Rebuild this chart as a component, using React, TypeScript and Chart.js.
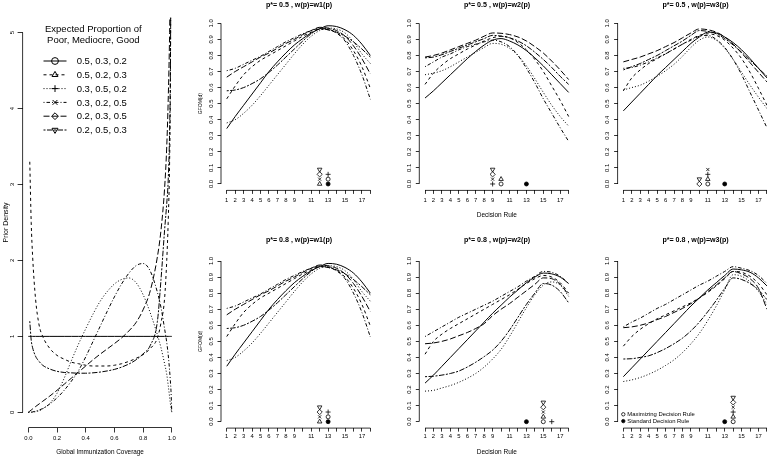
import React, { useEffect, useRef } from 'react';
import { Chart, registerables } from 'chart.js';
import { drawPoint } from 'chart.js/helpers';

Chart.register(...registerables);

const FONT = "'Liberation Sans', Arial, Helvetica, sans-serif";

// ---------------- data ----------------
const decisionRules = [1, 2, 3, 4, 5, 6, 7, 8, 9, 10, 11, 12, 13, 14, 15, 16, 17, 18];
const ruleTickLabels = ['1', '2', '3', '4', '5', '6', '7', '8', '9', '', '11', '', '13', '', '15', '', '17', ''];
const gfomTicks = [0, 0.1, 0.2, 0.3, 0.4, 0.5, 0.6, 0.7, 0.8, 0.9, 1.0];
const gfomTickLabels = ['0.0', '0.1', '0.2', '0.3', '0.4', '0.5', '0.6', '0.7', '0.8', '0.9', '1.0'];

const scenarioLabels = ['0.5, 0.3, 0.2', '0.5, 0.2, 0.3', '0.3, 0.5, 0.2', '0.3, 0.2, 0.5', '0.2, 0.3, 0.5', '0.2, 0.5, 0.3'];
const legendTitle = ['Expected Proportion of', 'Poor, Mediocre, Good'];
const panelTitles = [
  'p*= 0.5 , w(p)=w1(p)', 'p*= 0.5 , w(p)=w2(p)', 'p*= 0.5 , w(p)=w3(p)',
  'p*= 0.8 , w(p)=w1(p)', 'p*= 0.8 , w(p)=w2(p)', 'p*= 0.8 , w(p)=w3(p)',
];
const ruleLegendLabels = ['Maximizing Decision Rule', 'Standard Decision Rule'];

// GFOM(d) per scenario (rows = scenarios 1..6, columns = decision rules 1..18)
const gfomP05W1 = [
  [0.345, 0.42, 0.49, 0.56, 0.63, 0.70, 0.76, 0.815, 0.865, 0.905, 0.94, 0.965, 0.985, 0.98, 0.96, 0.925, 0.87, 0.80],
  [0.53, 0.61, 0.68, 0.73, 0.77, 0.80, 0.83, 0.86, 0.89, 0.92, 0.945, 0.965, 0.96, 0.94, 0.90, 0.83, 0.73, 0.595],
  [0.38, 0.40, 0.44, 0.49, 0.55, 0.615, 0.68, 0.745, 0.81, 0.87, 0.92, 0.955, 0.97, 0.965, 0.94, 0.885, 0.81, 0.75],
  [0.705, 0.72, 0.745, 0.77, 0.795, 0.825, 0.855, 0.885, 0.91, 0.935, 0.955, 0.97, 0.965, 0.94, 0.89, 0.80, 0.68, 0.527],
  [0.665, 0.70, 0.73, 0.76, 0.79, 0.815, 0.845, 0.875, 0.90, 0.93, 0.955, 0.975, 0.97, 0.955, 0.92, 0.86, 0.78, 0.685],
  [0.58, 0.585, 0.60, 0.625, 0.655, 0.695, 0.74, 0.79, 0.84, 0.89, 0.935, 0.965, 0.96, 0.945, 0.92, 0.885, 0.84, 0.79],
];
const gfomP05W2 = [
  [0.535, 0.58, 0.63, 0.68, 0.73, 0.78, 0.825, 0.865, 0.895, 0.905, 0.89, 0.865, 0.83, 0.785, 0.735, 0.68, 0.625, 0.57],
  [0.62, 0.69, 0.74, 0.78, 0.81, 0.84, 0.865, 0.89, 0.91, 0.92, 0.91, 0.88, 0.835, 0.775, 0.70, 0.61, 0.52, 0.42],
  [0.68, 0.69, 0.705, 0.73, 0.76, 0.79, 0.82, 0.85, 0.875, 0.87, 0.845, 0.80, 0.735, 0.655, 0.57, 0.49, 0.42, 0.36],
  [0.73, 0.76, 0.79, 0.81, 0.835, 0.855, 0.87, 0.885, 0.895, 0.885, 0.855, 0.80, 0.72, 0.63, 0.53, 0.44, 0.35, 0.265],
  [0.79, 0.80, 0.815, 0.835, 0.855, 0.875, 0.895, 0.92, 0.94, 0.938, 0.93, 0.915, 0.89, 0.855, 0.815, 0.765, 0.71, 0.65],
  [0.785, 0.79, 0.805, 0.825, 0.845, 0.865, 0.885, 0.905, 0.925, 0.92, 0.91, 0.89, 0.86, 0.82, 0.775, 0.725, 0.67, 0.62],
];
const gfomP05W3 = [
  [0.455, 0.51, 0.565, 0.62, 0.675, 0.725, 0.775, 0.825, 0.875, 0.915, 0.945, 0.94, 0.915, 0.88, 0.835, 0.78, 0.72, 0.66],
  [0.58, 0.66, 0.71, 0.75, 0.78, 0.81, 0.84, 0.87, 0.90, 0.925, 0.935, 0.925, 0.895, 0.845, 0.78, 0.695, 0.595, 0.49],
  [0.585, 0.60, 0.615, 0.64, 0.67, 0.705, 0.745, 0.795, 0.85, 0.895, 0.915, 0.895, 0.845, 0.775, 0.695, 0.615, 0.54, 0.47],
  [0.72, 0.725, 0.74, 0.76, 0.785, 0.81, 0.84, 0.87, 0.895, 0.92, 0.925, 0.90, 0.85, 0.775, 0.68, 0.57, 0.46, 0.35],
  [0.76, 0.775, 0.79, 0.81, 0.83, 0.855, 0.88, 0.91, 0.94, 0.965, 0.96, 0.945, 0.915, 0.87, 0.815, 0.755, 0.695, 0.635],
  [0.71, 0.73, 0.75, 0.775, 0.80, 0.83, 0.86, 0.89, 0.925, 0.955, 0.95, 0.935, 0.905, 0.865, 0.82, 0.77, 0.72, 0.67],
];
// the p* = 0.8, w1 panel reads identically to the p* = 0.5, w1 panel
const gfomP08W1 = [
  [0.345, 0.42, 0.49, 0.56, 0.63, 0.70, 0.76, 0.815, 0.865, 0.905, 0.94, 0.965, 0.985, 0.98, 0.96, 0.925, 0.87, 0.80],
  [0.53, 0.61, 0.68, 0.73, 0.77, 0.80, 0.83, 0.86, 0.89, 0.92, 0.945, 0.965, 0.96, 0.94, 0.90, 0.83, 0.73, 0.595],
  [0.38, 0.40, 0.44, 0.49, 0.55, 0.615, 0.68, 0.745, 0.81, 0.87, 0.92, 0.955, 0.97, 0.965, 0.94, 0.885, 0.81, 0.75],
  [0.705, 0.72, 0.745, 0.77, 0.795, 0.825, 0.855, 0.885, 0.91, 0.935, 0.955, 0.97, 0.965, 0.94, 0.89, 0.80, 0.68, 0.527],
  [0.665, 0.70, 0.73, 0.76, 0.79, 0.815, 0.845, 0.875, 0.90, 0.93, 0.955, 0.975, 0.97, 0.955, 0.92, 0.86, 0.78, 0.685],
  [0.58, 0.585, 0.60, 0.625, 0.655, 0.695, 0.74, 0.79, 0.84, 0.89, 0.935, 0.965, 0.96, 0.945, 0.92, 0.885, 0.84, 0.79],
];
const gfomP08W2 = [
  [0.24, 0.29, 0.345, 0.40, 0.455, 0.51, 0.565, 0.62, 0.675, 0.725, 0.775, 0.82, 0.865, 0.90, 0.925, 0.92, 0.90, 0.86],
  [0.42, 0.50, 0.545, 0.58, 0.61, 0.64, 0.67, 0.70, 0.73, 0.76, 0.79, 0.825, 0.86, 0.89, 0.91, 0.90, 0.865, 0.80],
  [0.19, 0.195, 0.21, 0.225, 0.245, 0.27, 0.30, 0.34, 0.39, 0.45, 0.53, 0.62, 0.71, 0.79, 0.85, 0.87, 0.85, 0.78],
  [0.53, 0.56, 0.59, 0.62, 0.65, 0.675, 0.70, 0.725, 0.75, 0.78, 0.81, 0.84, 0.875, 0.905, 0.935, 0.93, 0.905, 0.86],
  [0.485, 0.49, 0.50, 0.515, 0.535, 0.555, 0.58, 0.61, 0.66, 0.70, 0.735, 0.775, 0.815, 0.855, 0.895, 0.89, 0.855, 0.79],
  [0.28, 0.283, 0.29, 0.30, 0.315, 0.34, 0.37, 0.405, 0.445, 0.50, 0.57, 0.65, 0.73, 0.80, 0.86, 0.85, 0.81, 0.74],
];
const gfomP08W3 = [
  [0.28, 0.335, 0.39, 0.445, 0.50, 0.555, 0.61, 0.665, 0.72, 0.77, 0.82, 0.865, 0.91, 0.95, 0.945, 0.93, 0.895, 0.845],
  [0.47, 0.53, 0.575, 0.61, 0.64, 0.665, 0.69, 0.715, 0.74, 0.77, 0.805, 0.845, 0.89, 0.935, 0.93, 0.905, 0.86, 0.79],
  [0.25, 0.26, 0.275, 0.295, 0.32, 0.35, 0.385, 0.43, 0.485, 0.55, 0.63, 0.72, 0.82, 0.915, 0.905, 0.87, 0.81, 0.73],
  [0.59, 0.62, 0.645, 0.675, 0.705, 0.73, 0.76, 0.79, 0.82, 0.85, 0.875, 0.905, 0.935, 0.965, 0.955, 0.94, 0.91, 0.86],
  [0.585, 0.59, 0.60, 0.615, 0.635, 0.655, 0.68, 0.705, 0.735, 0.77, 0.81, 0.85, 0.895, 0.935, 0.92, 0.89, 0.83, 0.70],
  [0.39, 0.392, 0.40, 0.41, 0.43, 0.455, 0.485, 0.52, 0.565, 0.62, 0.685, 0.755, 0.83, 0.895, 0.885, 0.86, 0.82, 0.76],
];

// maximizing decision rule of each scenario, and the standard rule, per panel
const maxRuleP05W1 = [13, 12, 13, 12, 12, 12];
const maxRuleP05W2 = [10, 10, 9, 9, 9, 9];
const maxRuleP05W3 = [11, 11, 11, 11, 10, 10];
const maxRuleP08W1 = [13, 12, 13, 12, 12, 12];
const maxRuleP08W2 = [15, 15, 16, 15, 15, 15];
const maxRuleP08W3 = [14, 14, 14, 14, 14, 14];
const standardRules = [13, 13, 13, 13, 13, 13];

// prior densities over global immunization coverage
const coverage = [0, 0.01, 0.02, 0.03, 0.05, 0.075, 0.1, 0.15, 0.2, 0.25, 0.3, 0.35, 0.4, 0.45, 0.5, 0.55, 0.6, 0.65, 0.7, 0.75, 0.8, 0.85, 0.9, 0.925, 0.95, 0.965, 0.975, 0.985, 0.99, 0.995, 1];
const priorS1 = [1, 1, 1, 1, 1, 1, 1, 1, 1, 1, 1, 1, 1, 1, 1, 1, 1, 1, 1, 1, 1, 1, 1, 1, 1, 1, 1, 1, 1, 1, 1];
const priorS2 = [null, 3.3, 2.5, 2.05, 1.5, 1.15, 1.0, 0.84, 0.75, 0.7, 0.66, 0.64, 0.62, 0.61, 0.61, 0.61, 0.62, 0.64, 0.67, 0.71, 0.76, 0.84, 0.98, 1.18, 1.5, 2.0, 2.5, 3.3, 4.2, 6.5, null];
const priorS3 = [0, 0, 0.001, 0.002, 0.008, 0.02, 0.045, 0.12, 0.25, 0.45, 0.68, 0.9, 1.1, 1.29, 1.46, 1.59, 1.69, 1.75, 1.77, 1.71, 1.55, 1.31, 1.02, 0.85, 0.64, 0.5, 0.36, 0.2, 0.12, 0.05, 0];
const priorS4 = [0, 0, 0.002, 0.005, 0.015, 0.03, 0.05, 0.11, 0.19, 0.29, 0.41, 0.55, 0.73, 0.93, 1.13, 1.33, 1.52, 1.69, 1.83, 1.93, 1.96, 1.86, 1.58, 1.38, 1.1, 0.92, 0.76, 0.55, 0.42, 0.27, 0];
const priorS5 = [0, 0.015, 0.03, 0.045, 0.075, 0.11, 0.145, 0.215, 0.29, 0.37, 0.45, 0.53, 0.61, 0.69, 0.765, 0.835, 0.905, 0.98, 1.07, 1.18, 1.35, 1.6, 2.05, 2.4, 2.95, 3.5, 4.1, 5.0, 5.8, 7.0, null];
const priorS6 = [null, 1.2, 0.95, 0.85, 0.74, 0.67, 0.62, 0.57, 0.54, 0.525, 0.52, 0.515, 0.515, 0.52, 0.53, 0.545, 0.565, 0.595, 0.635, 0.69, 0.77, 0.88, 1.2, 1.75, 2.4, 2.75, 3.05, 3.7, 4.4, 6.0, null];
const coverageTicks = [0, 0.2, 0.4, 0.6, 0.8, 1.0];
const coverageTickLabels = ['0.0', '0.2', '0.4', '0.6', '0.8', '1.0'];
const densityTicks = [0, 1, 2, 3, 4, 5];
const densityTickLabels = ['0', '1', '2', '3', '4', '5'];

const gfomPanels = [gfomP05W1, gfomP05W2, gfomP05W3, gfomP08W1, gfomP08W2, gfomP08W3];
const maxRulePanels = [maxRuleP05W1, maxRuleP05W2, maxRuleP05W3, maxRuleP08W1, maxRuleP08W2, maxRuleP08W3];
const priorSeries = [priorS1, priorS2, priorS3, priorS4, priorS5, priorS6];

// ---------------- styles & layout ----------------
const DASHES: number[][] = [[], [3, 3], [1, 2], [1, 2, 3.5, 2], [6, 2.5], [2, 1.5, 5.5, 1.5]];
const PSTYLE = ['circle', 'triangle', 'cross', 'crossRot', 'rectRot', 'triangle'];
const PROT = [0, 0, 0, 0, 0, 180];
const PRAD = [2.0, 2.6, 2.5, 2.2, 2.6, 2.6];
const MARK_STEP = 0.03;

const COL_LEFT = [221.0, 419.3, 617.6];
const REGION_W = 155.1;
const ROW_GEO = [
  { top: 16.9, bottom: 190.4, cTop: 0, cH: 222, titleY: 5.5, tickY: 200, xTitleY: 215.5 },
  { top: 254.6, bottom: 428.1, cTop: 236, cH: 220, titleY: 240, tickY: 436.7, xTitleY: 452 },
];
const TICK_FONT = 5.9;
const GFOM_TL = 3.5;

type Box = { x: number; y: number; w: number; h: number };

function panelBox(idx: number) {
  const r = Math.floor(idx / 3), c = idx % 3;
  const g = ROW_GEO[r];
  const L = COL_LEFT[c];
  const cl = Math.floor(L - 35);
  const yW = L - cl;
  const cw = Math.ceil(2 * yW + REGION_W);
  const dummyW = cw - yW - REGION_W;
  return { r, c, g, L, cl, yW, cw, dummyW };
}

const rAxisPlugin = {
  id: 'rAxis',
  afterDraw(chart: any) {
    const ctx = chart.ctx;
    ctx.save();
    ctx.strokeStyle = '#000';
    ctx.lineWidth = 0.8;
    ['x', 'y'].forEach((id) => {
      const s = chart.scales[id];
      if (!s || !s.ticks.length) return;
      const a = s.getPixelForValue(s.ticks[0].value);
      const b = s.getPixelForValue(s.ticks[s.ticks.length - 1].value);
      ctx.beginPath();
      if (id === 'x') { ctx.moveTo(a, s.top); ctx.lineTo(b, s.top); }
      else { ctx.moveTo(s.right, a); ctx.lineTo(s.right, b); }
      ctx.stroke();
    });
    ctx.restore();
  },
};

const priorLegendPlugin = {
  id: 'priorLegend',
  afterDraw(chart: any) {
    const ctx = chart.ctx;
    ctx.save();
    ctx.fillStyle = '#000';
    ctx.font = `9.5px ${FONT}`;
    ctx.textAlign = 'center';
    ctx.textBaseline = 'middle';
    legendTitle.forEach((t, i) => ctx.fillText(t, 93.3, 29.5 + i * 10.7));
    ctx.textAlign = 'left';
    scenarioLabels.forEach((lab, i) => {
      const y = 61 + i * 13.8;
      ctx.strokeStyle = '#000';
      ctx.lineWidth = 1;
      ctx.setLineDash(DASHES[i]);
      ctx.beginPath();
      ctx.moveTo(43.5, y);
      ctx.lineTo(66.5, y);
      ctx.stroke();
      ctx.setLineDash([]);
      ctx.fillStyle = 'rgba(0,0,0,0)';
      drawPoint(ctx, { pointStyle: PSTYLE[i], rotation: PROT[i], radius: 3.4, borderWidth: 1 } as any, 55, y);
      ctx.fillStyle = '#000';
      ctx.fillText(lab, 76.7, y + 0.5);
    });
    ctx.restore();
  },
};

const ruleLegendPlugin = {
  id: 'ruleLegend',
  afterDraw(chart: any) {
    const ctx = chart.ctx;
    const { left, bottom } = chart.chartArea;
    ctx.save();
    ctx.font = `5.9px ${FONT}`;
    ctx.textAlign = 'left';
    ctx.textBaseline = 'middle';
    ctx.strokeStyle = '#000';
    ctx.lineWidth = 0.8;
    ruleLegendLabels.forEach((lab, i) => {
      const y = bottom - 13.8 + i * 6.8;
      ctx.fillStyle = i === 0 ? 'rgba(0,0,0,0)' : '#000';
      drawPoint(ctx, { pointStyle: 'circle', rotation: 0, radius: 1.7, borderWidth: 0.8 } as any, left + 5.7, y);
      ctx.fillStyle = '#000';
      ctx.fillText(lab, left + 9.7, y + 0.3);
    });
    ctx.restore();
  },
};

function gridOpts(tl: number) {
  return { display: true, drawOnChartArea: false, drawTicks: true, tickLength: tl, tickColor: '#000', tickWidth: 0.8 };
}

function gfomConfig(idx: number): any {
  const { c, g, L, yW, dummyW } = panelBox(idx);
  const values = gfomPanels[idx];
  const maxRules = maxRulePanels[idx];
  const std = standardRules[idx];
  const lineSets = values.map((vals, s) => ({
    type: 'line',
    data: decisionRules.map((x, i) => ({ x, y: vals[i] })),
    borderColor: '#000',
    borderWidth: 1.0,
    borderDash: DASHES[s],
    pointRadius: 0,
    fill: false,
    cubicInterpolationMode: 'monotone',
  }));
  const counts: Record<number, number> = {};
  const level = (x: number) => { const k = counts[x] || 0; counts[x] = k + 1; return k * MARK_STEP; };
  const stdSet = {
    type: 'line', showLine: false,
    data: [{ x: std, y: level(std) }],
    pointStyle: 'circle', pointRadius: 2.0,
    pointBackgroundColor: '#000', pointBorderColor: '#000', pointBorderWidth: 0.8,
  };
  const markSets = maxRules.map((x, s) => ({
    type: 'line', showLine: false,
    data: [{ x, y: level(x) }],
    pointStyle: PSTYLE[s], pointRotation: PROT[s], pointRadius: PRAD[s],
    pointBackgroundColor: 'rgba(0,0,0,0)', pointBorderColor: '#000', pointBorderWidth: 0.8,
  }));

  const titleLH = 7.1;
  const titleH = g.top - g.cTop;
  const tPt = g.titleY - g.cTop - titleLH / 2;
  const tPb = titleH - titleLH - tPt;
  const xH = g.cTop + g.cH - g.bottom;
  const xTickPad = g.tickY - g.bottom - GFOM_TL - (TICK_FONT * 1.2) / 2;
  const xTitleSize = 6.5;
  const xTitlePb = g.cTop + g.cH - g.xTitleY - (xTitleSize * 1.2) / 2;
  const labelCenterX = L - 10;
  const yTickPad = L - GFOM_TL - 0.695 * TICK_FONT - labelCenterX;

  return {
    type: 'line',
    data: { datasets: [...lineSets, stdSet, ...markSets] },
    options: {
      responsive: false,
      animation: false,
      devicePixelRatio: 1,
      events: [],
      layout: { padding: 0 },
      plugins: {
        legend: { display: false },
        tooltip: { enabled: false },
        title: {
          display: true, text: panelTitles[idx], color: '#000',
          font: { family: FONT, size: titleLH, weight: 'bold', lineHeight: 1 },
          padding: { top: tPt, bottom: tPb },
        },
      },
      scales: {
        x: {
          type: 'linear', min: 0.32, max: 18.68,
          afterBuildTicks: (s: any) => { s.ticks = decisionRules.map((v) => ({ value: v })); },
          ticks: {
            autoSkip: false, minRotation: 0, maxRotation: 0, padding: xTickPad, color: '#000',
            font: { family: FONT, size: TICK_FONT }, callback: (_v: any, i: number) => ruleTickLabels[i],
          },
          grid: gridOpts(GFOM_TL),
          border: { display: false },
          title: {
            display: c === 1, text: 'Decision Rule', color: '#000',
            font: { family: FONT, size: xTitleSize }, padding: { top: 0, bottom: xTitlePb },
          },
          afterFit: (s: any) => { s.height = xH; s.paddingLeft = 0; s.paddingRight = 0; },
        },
        y: {
          type: 'linear', position: 'left', min: -0.04, max: 1.04,
          afterBuildTicks: (s: any) => { s.ticks = gfomTicks.map((v) => ({ value: v })); },
          ticks: {
            autoSkip: false, minRotation: 90, maxRotation: 90, crossAlign: 'center', padding: yTickPad,
            color: '#000', font: { family: FONT, size: TICK_FONT }, callback: (_v: any, i: number) => gfomTickLabels[i],
          },
          grid: gridOpts(GFOM_TL),
          border: { display: false },
          title: {
            display: c === 0, text: 'GFOM(d)', color: '#000',
            font: { family: FONT, size: 5 }, padding: { top: 12, bottom: 0 },
          },
          afterFit: (s: any) => { s.width = yW; s.paddingTop = 0; s.paddingBottom = 0; },
        },
        yR: {
          type: 'linear', position: 'right', min: 0, max: 1, display: true,
          ticks: { display: false }, grid: { display: false }, border: { display: false },
          afterFit: (s: any) => { s.width = dummyW; s.paddingTop = 0; s.paddingBottom = 0; },
        },
      },
    },
    plugins: idx === 5 ? [rAxisPlugin, ruleLegendPlugin] : [rAxisPlugin],
  };
}

function priorConfig(): any {
  const datasets = priorSeries.map((vals, s) => ({
    type: 'line',
    data: coverage.map((x, i) => ({ x, y: vals[i] })),
    borderColor: '#000',
    borderWidth: 1.0,
    borderDash: DASHES[s],
    pointRadius: 0,
    fill: false,
    spanGaps: false,
    cubicInterpolationMode: 'monotone',
  }));
  const L = 22.6, R = 177.5, T = 17.5, B = 427.5, W = 200, H = 456;
  const tl = 5;
  return {
    type: 'line',
    data: { datasets },
    options: {
      responsive: false,
      animation: false,
      devicePixelRatio: 1,
      events: [],
      layout: { padding: { left: 0, top: T, right: W - R, bottom: 0 } },
      plugins: { legend: { display: false }, tooltip: { enabled: false }, title: { display: false } },
      scales: {
        x: {
          type: 'linear', min: -0.04, max: 1.04,
          afterBuildTicks: (s: any) => { s.ticks = coverageTicks.map((v) => ({ value: v })); },
          ticks: {
            autoSkip: false, minRotation: 0, maxRotation: 0, padding: 438.3 - B - tl - (TICK_FONT * 1.2) / 2,
            color: '#000', font: { family: FONT, size: TICK_FONT }, callback: (_v: any, i: number) => coverageTickLabels[i],
          },
          grid: gridOpts(tl),
          border: { display: false },
          title: {
            display: true, text: 'Global Immunization Coverage', color: '#000',
            font: { family: FONT, size: 6.4 }, padding: { top: 0, bottom: H - 452 - (6.4 * 1.2) / 2 },
          },
          afterFit: (s: any) => { s.height = H - B; s.paddingLeft = 0; s.paddingRight = 0; },
        },
        y: {
          type: 'linear', position: 'left', min: -0.2, max: 5.2,
          afterBuildTicks: (s: any) => { s.ticks = densityTicks.map((v) => ({ value: v })); },
          ticks: {
            autoSkip: false, minRotation: 90, maxRotation: 90, crossAlign: 'center', padding: L - tl - 0.278 * TICK_FONT - 12.7,
            color: '#000', font: { family: FONT, size: TICK_FONT }, callback: (_v: any, i: number) => densityTickLabels[i],
          },
          grid: gridOpts(tl),
          border: { display: false },
          title: {
            display: true, text: 'Prior Density', color: '#000',
            font: { family: FONT, size: 7 }, padding: { top: 6.3 - 4.2, bottom: 0 },
          },
          afterFit: (s: any) => { s.width = L; s.paddingTop = 0; s.paddingBottom = 0; },
        },
      },
    },
    plugins: [rAxisPlugin, priorLegendPlugin],
  };
}

const boxes: Box[] = [
  { x: 0, y: 0, w: 200, h: 456 },
  ...[0, 1, 2, 3, 4, 5].map((i) => {
    const p = panelBox(i);
    return { x: p.cl, y: p.g.cTop, w: p.cw, h: p.g.cH };
  }),
];

export default function App() {
  const refs = useRef<(HTMLCanvasElement | null)[]>([]);
  useEffect(() => {
    Chart.defaults.font.family = FONT;
    Chart.defaults.color = '#000';
    const charts: Chart[] = [];
    const c0 = refs.current[0];
    if (c0) charts.push(new Chart(c0, priorConfig()));
    for (let i = 0; i < 6; i++) {
      const cv = refs.current[i + 1];
      if (cv) charts.push(new Chart(cv, gfomConfig(i)));
    }
    return () => charts.forEach((ch) => ch.destroy());
  }, []);
  return (
    <div style={{ position: 'fixed', left: 0, top: 0, width: 767, height: 456, overflow: 'hidden', background: '#fff' }}>
      {boxes.map((b, i) => (
        <canvas
          key={i}
          ref={(el) => { refs.current[i] = el; }}
          width={b.w}
          height={b.h}
          style={{ position: 'absolute', left: b.x, top: b.y, width: b.w, height: b.h }}
        />
      ))}
    </div>
  );
}
